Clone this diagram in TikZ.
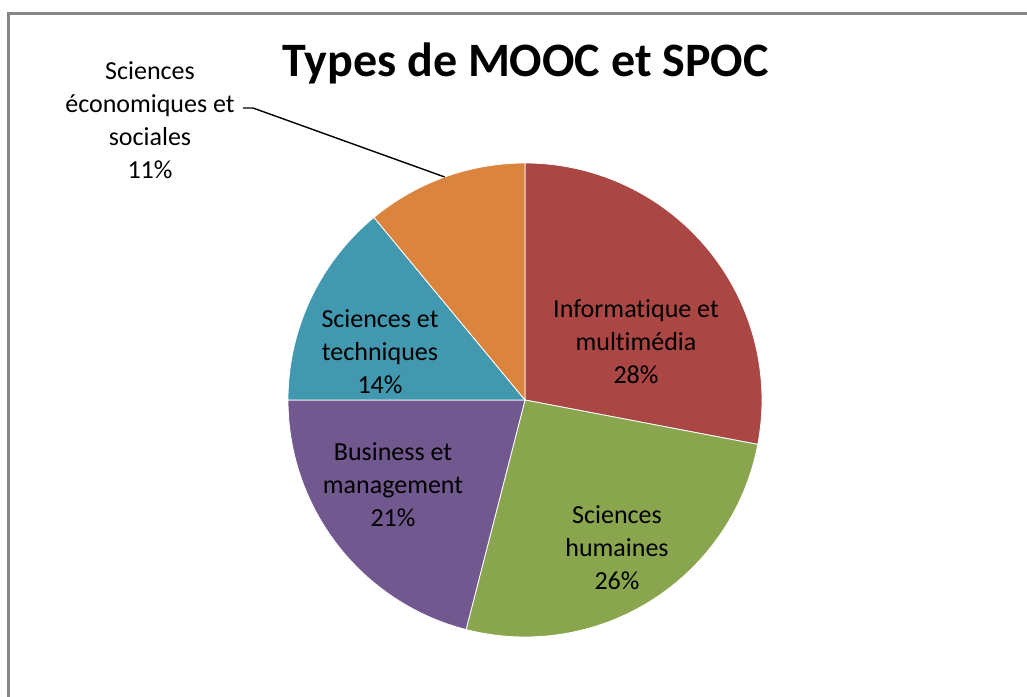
\documentclass[tikz,border=0pt]{standalone}
\usepackage{fontspec}
\setmainfont{Carlito}[Ligatures=NoCommon]
\usetikzlibrary{positioning}

\definecolor{infored}{HTML}{AA4643}
\definecolor{humgreen}{HTML}{89A54E}
\definecolor{buspurple}{HTML}{71588F}
\definecolor{techblue}{HTML}{4198AF}
\definecolor{ecoorange}{HTML}{DB843D}
\definecolor{framegray}{HTML}{868686}

\tikzset{
  slice/.style={draw=white,line width=0.8pt},
  lbl/.style={align=center,font=\fontsize{26}{33}\selectfont,inner sep=0pt}
}

\begin{document}
\begin{tikzpicture}[x=1pt,y=1pt]
\useasboundingbox (0,0) rectangle (1027,696);
\fill[white] (0,0) rectangle (1027,696);
\draw[framegray,line width=2.2pt] (1030,682.5) -- (8.5,682.5) -- (8.5,-3);

\coordinate (c) at (525,296);
\draw[slice,fill=infored] (c) -- ++(90:237) arc (90:-10.8:237) -- cycle;
\draw[slice,fill=humgreen] (c) -- ++(-10.8:237) arc (-10.8:-104.4:237) -- cycle;
\draw[slice,fill=buspurple] (c) -- ++(-104.4:237) arc (-104.4:-180:237) -- cycle;
\draw[slice,fill=techblue] (c) -- ++(180:237) arc (180:129.6:237) -- cycle;
\draw[slice,fill=ecoorange] (c) -- ++(129.6:237) arc (129.6:90:237) -- cycle;

\node[font=\fontsize{48}{58}\selectfont\bfseries,anchor=base] (title) at (525.5,619) {Types de MOOC et SPOC};

\node[lbl] (info) at (636,354) {Informatique et\\multimédia\\28\%};
\node[lbl] (hum) at (617,148) {Sciences\\humaines\\26\%};
\node[lbl] (bus) at (393,211) {Business et\\management\\21\%};
\node[lbl] (tech) at (380,344) {Sciences et\\techniques\\14\%};
\node[lbl] (eco) at (150,576) {Sciences\\économiques et\\sociales\\11\%};

\coordinate (ecoend) at (243,588);
\coordinate (ecoedge) at ([shift={(109.8:237)}]c);
\draw[black,line width=1.4pt] (ecoend) -- ++(10,0) -- (ecoedge);
\end{tikzpicture}
\end{document}
